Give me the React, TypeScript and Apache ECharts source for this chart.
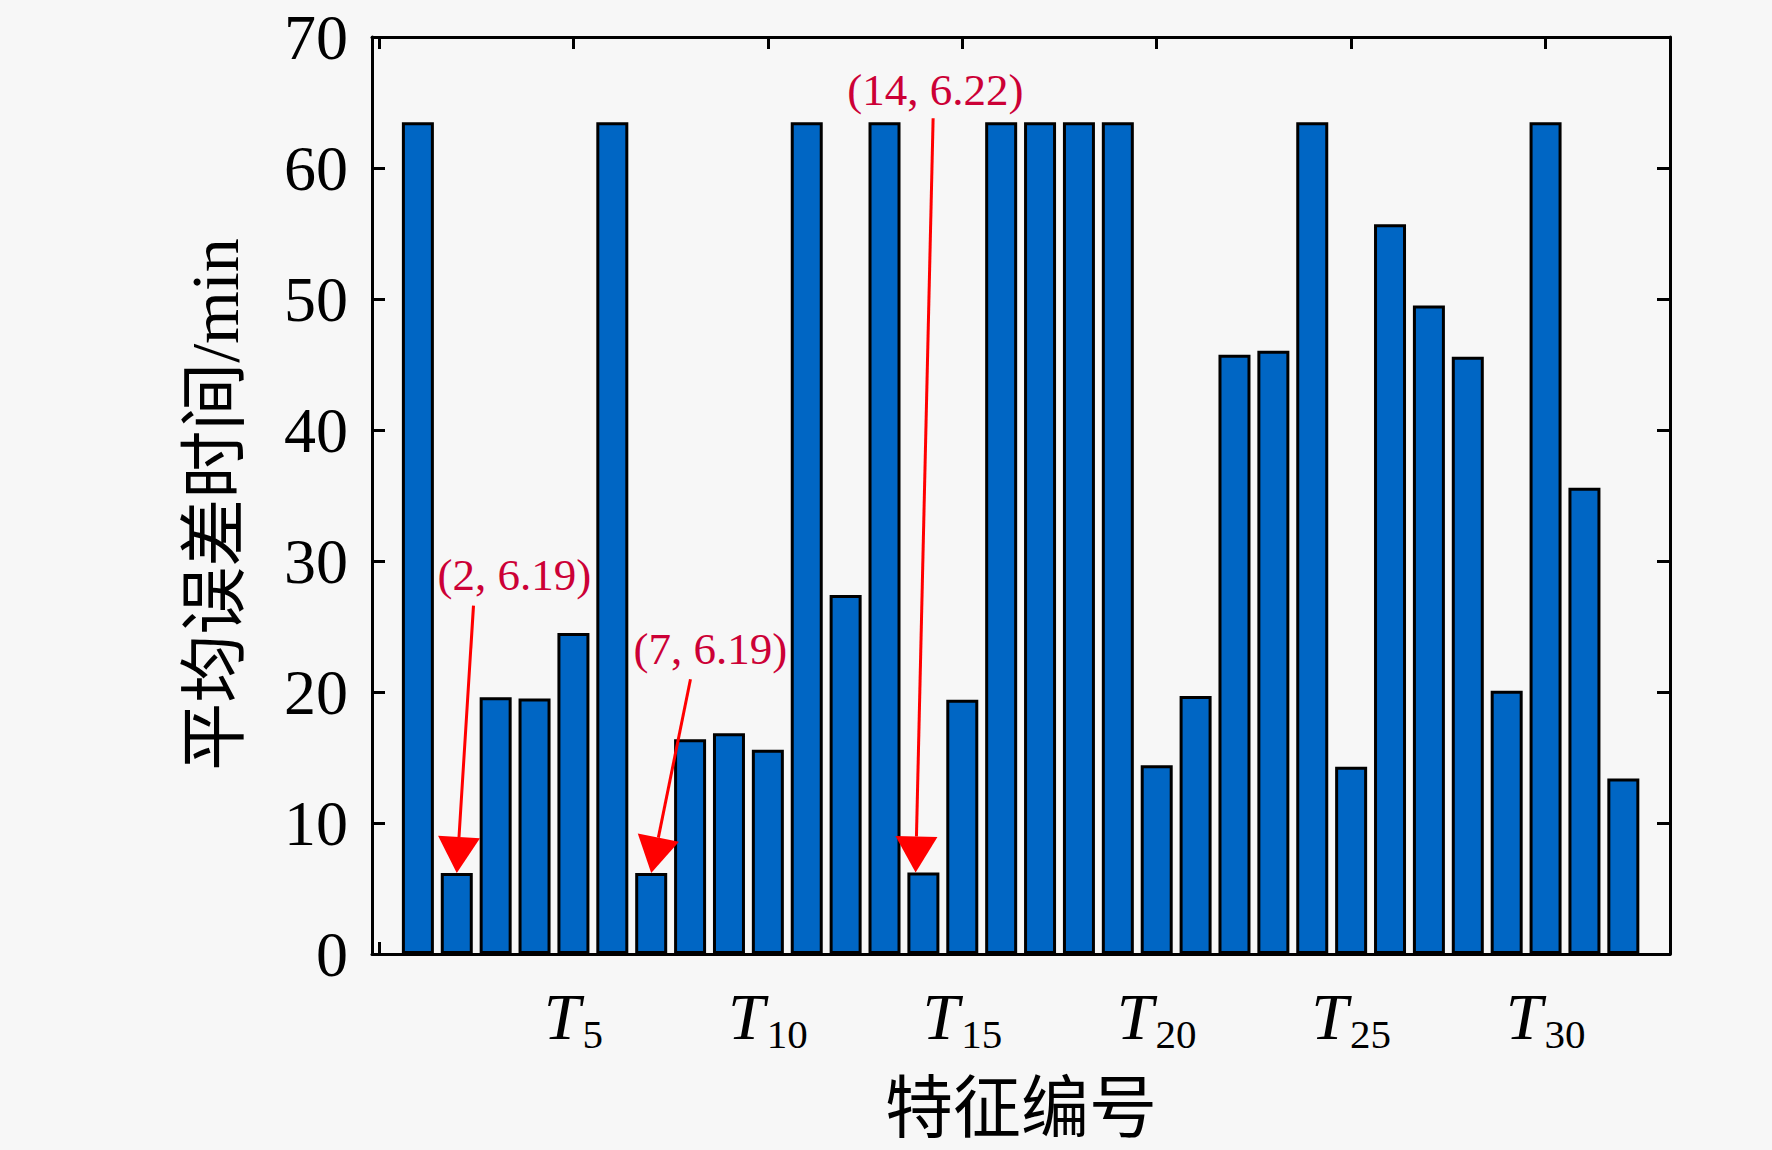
import React, { useEffect, useRef } from 'react';
import * as echarts from 'echarts';

// Feature ids (x positions of bars)
const featureIds = [1, 2, 3, 4, 5, 6, 7, 8, 9, 10, 11, 12, 13, 14, 15, 16, 17, 18, 19, 20, 21, 22, 23, 24, 25, 26, 27, 28, 29, 30, 31, 32];
// Mean error time (min) per feature
const meanErrorMinutes = [63.5, 6.19, 19.6, 19.5, 24.5, 63.5, 6.19, 16.4, 16.85, 15.6, 63.5, 27.4, 63.5, 6.22, 19.4, 63.5, 63.5, 63.5, 63.5, 14.4, 19.7, 45.75, 46.05, 63.5, 14.3, 55.7, 49.5, 45.6, 20.1, 63.5, 35.6, 13.4];

// Axis ticks
const xTickValues = [0, 5, 10, 15, 20, 25, 30];
const xLabelValues = [5, 10, 15, 20, 25, 30];
const yMin = 0;
const yMax = 70;
const yInterval = 10;
const xMin = -0.18;
const xMax = 33.2;

// Annotations (data coordinates)
const annotationTexts = ['(2, 6.19)', '(7, 6.19)', '(14, 6.22)'];
const annotationLabelX = [3.48, 8.52, 14.31];
const annotationLabelY = [28.9, 23.25, 65.96];
const arrowTailX = [2.43, 8.01, 14.25];
const arrowTailY = [26.6, 20.97, 63.8];
const arrowTipX = [2, 7, 13.8];
const arrowTipY = [6.19, 6.19, 6.22];

const SERIF = '"Liberation Serif", "Times New Roman", serif';
const CJK = '"Liberation Serif", "Noto Sans CJK SC", serif';

export default function App() {
  const ref = useRef<HTMLDivElement>(null);

  useEffect(() => {
    document.body.style.margin = '0';
    if (!ref.current) return;
    const chart = echarts.init(ref.current, null, { renderer: 'svg' });

    const axisLineStyle = { color: '#000', width: 3 };
    const tickStyle = { color: '#000', width: 3 };

    const option: any = {
      animation: false,
      backgroundColor: '#F7F7F7',
      grid: { left: 372, right: 102, top: 37, bottom: 196, containLabel: false },
      xAxis: [
        {
          type: 'value',
          position: 'bottom',
          min: xMin,
          max: xMax,
          axisLine: { show: true, onZero: false, lineStyle: axisLineStyle },
          axisTick: { show: true, inside: true, length: 12, lineStyle: tickStyle, customValues: xTickValues },
          axisLabel: {
            show: true,
            customValues: xLabelValues,
            margin: 29,
            formatter: (v: number) => `{t|T}{s|${v}}`,
            rich: {
              t: { fontFamily: SERIF, fontStyle: 'italic', fontSize: 66, lineHeight: 64, color: '#000', verticalAlign: 'top' },
              s: { fontFamily: SERIF, fontSize: 41, lineHeight: 40, color: '#000', verticalAlign: 'top', padding: [30, 0, 0, 2] },
            },
          },
          splitLine: { show: false },
          name: '特征编号',
          nameLocation: 'middle',
          nameGap: 121,
          nameTextStyle: { fontFamily: CJK, fontSize: 68, color: '#000' },
        },
        {
          type: 'value',
          position: 'top',
          min: xMin,
          max: xMax,
          axisLine: { show: true, onZero: false, lineStyle: axisLineStyle },
          axisTick: { show: true, inside: true, length: 12, lineStyle: tickStyle, customValues: xTickValues },
          axisLabel: { show: false },
          splitLine: { show: false },
        },
      ],
      yAxis: [
        {
          type: 'value',
          position: 'left',
          min: yMin,
          max: yMax,
          interval: yInterval,
          axisLine: { show: true, onZero: false, lineStyle: axisLineStyle },
          axisTick: { show: true, inside: true, length: 13, lineStyle: tickStyle },
          axisLabel: { fontFamily: SERIF, fontSize: 64, lineHeight: 56, color: '#000', margin: 24 },
          splitLine: { show: false },
          name: '平均误差时间/min',
          nameLocation: 'middle',
          nameGap: 123,
          nameTextStyle: { fontFamily: CJK, fontSize: 68, color: '#000', padding: [0, 18, 0, 0] },
        },
        {
          type: 'value',
          position: 'right',
          min: yMin,
          max: yMax,
          interval: yInterval,
          axisLine: { show: true, onZero: false, lineStyle: axisLineStyle },
          axisTick: { show: true, inside: true, length: 13, lineStyle: tickStyle },
          axisLabel: { show: false },
          splitLine: { show: false },
        },
      ],
      series: [
        {
          type: 'bar',
          xAxisIndex: 0,
          yAxisIndex: 0,
          data: featureIds.map((id, i) => [id, meanErrorMinutes[i]]),
          barWidth: 32,
          itemStyle: { color: '#0066C4', borderColor: '#000', borderWidth: 3 },
        },
        {
          type: 'custom',
          xAxisIndex: 0,
          yAxisIndex: 0,
          clip: false,
          z: 5,
          encode: { x: [0, 2], y: [1, 3] },
          data: arrowTailX.map((x, i) => [x, arrowTailY[i], arrowTipX[i], arrowTipY[i]]),
          renderItem: (params: any, api: any) => {
            const p0 = api.coord([api.value(0), api.value(1)]);
            const p1 = api.coord([api.value(2), api.value(3)]);
            const dx = p1[0] - p0[0];
            const dy = p1[1] - p0[1];
            const len = Math.hypot(dx, dy) || 1;
            const ux = dx / len;
            const uy = dy / len;
            const hl = 36;
            const hw = 21;
            const bx = p1[0] - ux * hl;
            const by = p1[1] - uy * hl;
            return {
              type: 'group',
              children: [
                { type: 'line', shape: { x1: p0[0], y1: p0[1], x2: bx, y2: by }, style: { stroke: '#FF0000', lineWidth: 3 } },
                {
                  type: 'polygon',
                  shape: { points: [[p1[0], p1[1]], [bx - uy * hw, by + ux * hw], [bx + uy * hw, by - ux * hw]] },
                  style: { fill: '#FF0000' },
                },
              ],
            };
          },
        },
        {
          type: 'custom',
          xAxisIndex: 0,
          yAxisIndex: 0,
          clip: false,
          z: 6,
          encode: { x: 0, y: 1 },
          data: annotationLabelX.map((x, i) => [x, annotationLabelY[i]]),
          renderItem: (params: any, api: any) => {
            const p = api.coord([api.value(0), api.value(1)]);
            return {
              type: 'text',
              x: p[0],
              y: p[1],
              style: {
                text: annotationTexts[params.dataIndex],
                fill: '#CC0036',
                fontFamily: SERIF,
                fontSize: 45,
                align: 'center',
                verticalAlign: 'middle',
              },
            };
          },
        },
      ],
    };

    chart.setOption(option);
    return () => chart.dispose();
  }, []);

  return <div ref={ref} style={{ width: 1772, height: 1150 }} />;
}
